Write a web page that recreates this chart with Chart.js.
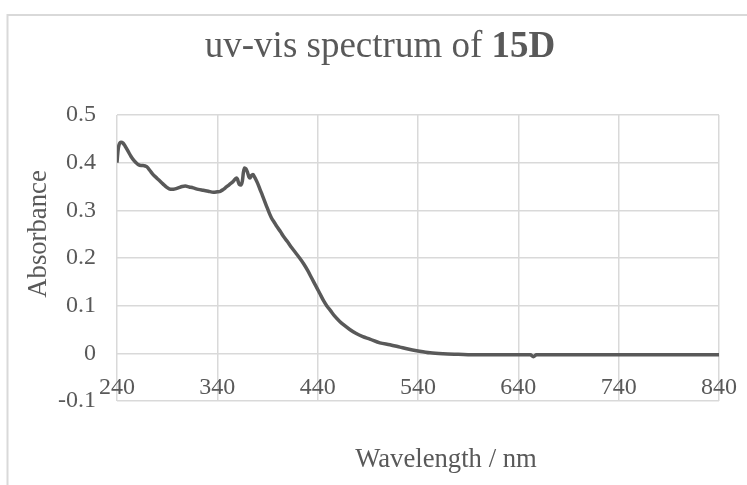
<!DOCTYPE html>
<html>
<head>
<meta charset="utf-8">
<script src="https://cdn.jsdelivr.net/npm/chart.js@4/dist/chart.umd.min.js"></script>
<style>
html,body{margin:0;padding:0;background:#ffffff;}
#wrap{width:747px;height:485px;position:relative;}
</style>
</head>
<body>
<div id="wrap"><canvas id="c" width="747" height="485"></canvas></div>
<script>
// ---- text ----
const titleText = 'uv-vis spectrum of ';
const titleBold = '15D';
const xAxisTitle = 'Wavelength / nm';
const yAxisTitle = 'Absorbance';

// ---- ticks ----
const xTicks = [240, 340, 440, 540, 640, 740, 840];
const yTicks = [-0.1, 0, 0.1, 0.2, 0.3, 0.4, 0.5];

// ---- series ----
const wavelength = [
  240, 241, 242, 244, 246, 248, 251, 254, 256, 259, 261, 264, 266, 268, 270,
  273, 276, 280, 283, 286, 289, 292, 295, 298, 301, 305, 308, 312, 316, 321,
  326, 331, 336, 340, 343, 346, 349, 352, 356, 359, 360, 361, 362, 363.5, 365,
  366, 367, 368.5, 370, 371.5, 372.5, 374, 375.5, 377, 378.5, 380.5, 382.5, 385, 389, 392,
  394, 397, 399, 403, 406, 410, 414, 418, 422, 426, 430, 434, 438, 442, 446,
  449, 453, 457, 462, 467, 472, 478, 485, 492, 502, 512, 522, 530, 540, 552,
  565, 580, 600, 620, 640, 652, 655, 658, 680, 720, 760, 800, 840
];
const absorbance = [
  0.400, 0.425, 0.437, 0.443, 0.441, 0.435, 0.424, 0.413, 0.407, 0.400, 0.396, 0.394, 0.394, 0.393, 0.391,
  0.383, 0.375, 0.367, 0.361, 0.355, 0.349, 0.345, 0.344, 0.345, 0.347, 0.350, 0.351, 0.349, 0.347, 0.344,
  0.342, 0.340, 0.338, 0.339, 0.340, 0.344, 0.349, 0.354, 0.361, 0.368, 0.366, 0.359, 0.354, 0.353, 0.362,
  0.380, 0.389, 0.387, 0.380, 0.370, 0.368, 0.373, 0.375, 0.370, 0.364, 0.355, 0.344, 0.331, 0.309, 0.293,
  0.284, 0.274, 0.267, 0.255, 0.245, 0.234, 0.222, 0.211, 0.200, 0.188, 0.174, 0.158, 0.142, 0.126, 0.110,
  0.100, 0.089, 0.078, 0.067, 0.058, 0.050, 0.042, 0.035, 0.030, 0.022, 0.018, 0.013, 0.009, 0.005, 0.001,
  -0.001, -0.002, -0.003, -0.003, -0.003, -0.003, -0.007, -0.003, -0.003, -0.003, -0.003, -0.003, -0.003
];

const FONT = "'Liberation Serif', 'Times New Roman', serif";
const TEXT = '#595959';
const GRID = '#d9d9d9';

const points = wavelength.map((w, i) => ({x: w, y: absorbance[i]}));

const decor = {
  id: 'decor',
  beforeDraw(chart) {
    const ctx = chart.ctx;
    ctx.save();
    ctx.strokeStyle = GRID;
    ctx.lineWidth = 2;
    ctx.strokeRect(7.5, 15, 800, 600);
    ctx.restore();
  },
  afterDraw(chart) {
    const ctx = chart.ctx;
    ctx.save();
    ctx.fillStyle = TEXT;
    // title (mixed weight)
    const fs = 37;
    ctx.textBaseline = 'alphabetic';
    ctx.textAlign = 'left';
    ctx.font = fs + 'px ' + FONT;
    const w1 = ctx.measureText(titleText).width;
    ctx.font = 'bold ' + fs + 'px ' + FONT;
    const w2 = ctx.measureText(titleBold).width;
    const start = 380 - (w1 + w2) / 2;
    ctx.font = fs + 'px ' + FONT;
    ctx.fillText(titleText, start, 57);
    ctx.font = 'bold ' + fs + 'px ' + FONT;
    ctx.fillText(titleBold, start + w1, 57);
    // x axis title
    ctx.font = '26.7px ' + FONT;
    ctx.textAlign = 'center';
    ctx.fillText(xAxisTitle, 446, 467);
    // y axis title
    ctx.translate(46, 234);
    ctx.rotate(-Math.PI / 2);
    ctx.fillText(yAxisTitle, 0, 0);
    ctx.restore();
  }
};

new Chart(document.getElementById('c'), {
  type: 'line',
  data: {
    datasets: [{
      data: points,
      borderColor: '#595959',
      borderWidth: 3.5,
      pointRadius: 0,
      fill: false,
      cubicInterpolationMode: 'monotone'
    }]
  },
  options: {
    responsive: false,
    animation: false,
    events: [],
    layout: {padding: {left: 7, right: 28, top: 115, bottom: 84}},
    plugins: {legend: {display: false}, title: {display: false}, tooltip: {enabled: false}},
    scales: {
      x: {
        type: 'linear',
        position: {y: 0},
        min: 240, max: 840,
        afterBuildTicks: s => { s.ticks = xTicks.map(v => ({value: v})); },
        afterFit: s => { s.paddingLeft = 0; s.paddingRight = 0; },
        grid: {color: GRID, lineWidth: 1.5, drawTicks: false},
        border: {display: false},
        ticks: {
          font: {family: FONT, size: 24}, color: TEXT, padding: 20,
          maxRotation: 0, autoSkip: false,
          callback: v => String(v)
        }
      },
      y: {
        type: 'linear',
        min: -0.1, max: 0.5,
        afterBuildTicks: s => { s.ticks = yTicks.map(v => ({value: v})); },
        afterFit: s => { s.width = 110; },
        grid: {color: GRID, lineWidth: 1.5, drawTicks: false},
        border: {display: false},
        ticks: {
          font: {family: FONT, size: 24}, color: TEXT, padding: 21,
          callback: v => String(Number(Number(v).toFixed(1)))
        }
      }
    }
  },
  plugins: [decor]
});
</script>
</body>
</html>
